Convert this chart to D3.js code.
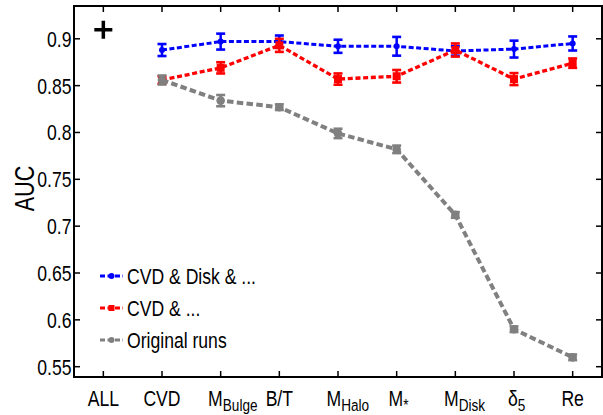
<!DOCTYPE html>
<html>
<head>
<meta charset="utf-8">
<script src="https://cdn.jsdelivr.net/npm/d3@7"></script>
<style>
  body { margin: 0; background: #fff; }
  svg { display: block; font-family: "Liberation Sans", Arial, sans-serif; }
</style>
</head>
<body>
<svg id="chart"></svg>
<script>
// categories (main text + subscript)
const categories = ["ALL", "CVD", "MBulge", "B/T", "MHalo", "Mstar", "MDisk", "d5", "Re"];
const labelMain = ["ALL", "CVD", "M", "B/T", "M", "M", "M", "δ", "Re"];
const labelSub = ["", "", "Bulge", "", "Halo", "*", "Disk", "5", ""];

// series start at CVD
const seriesCats = categories.slice(1);
const blueVals = [0.888, 0.897, 0.897, 0.892, 0.892, 0.887, 0.889, 0.895];
const blueErr = [0.0064, 0.0085, 0.0065, 0.007, 0.010, 0.005, 0.009, 0.0075];
const redVals = [0.856, 0.869, 0.893, 0.857, 0.860, 0.888, 0.857, 0.874];
const redErr = [0.004, 0.006, 0.007, 0.006, 0.0067, 0.007, 0.0064, 0.005];
const grayVals = [0.856, 0.834, 0.827, 0.799, 0.782, 0.712, 0.590, 0.560];
const grayErr = [0.0048, 0.006, 0.003, 0.005, 0.004, 0.003, 0.003, 0.003];
const allValue = 0.9096;

const yTicks = [0.55, 0.6, 0.65, 0.7, 0.75, 0.8, 0.85, 0.9];
const legendLabels = ["CVD & Disk & ...", "CVD & ...", "Original runs"];

const width = 603, height = 415;
const mLeft = 74, mRight = 602, mTop = 6, mBottom = 377;
const narrow = 0.8; // text in the figure is horizontally condensed

const svg = d3.select("#chart").attr("width", width).attr("height", height);

const x = d3.scalePoint().domain(categories).range([mLeft, mRight]).padding(0.5);
const y = d3.scaleLinear().domain([0.539, 0.935]).range([mBottom, mTop]);

// frame
svg.append("rect")
    .attr("x", mLeft).attr("y", mTop)
    .attr("width", mRight - mLeft).attr("height", mBottom - mTop)
    .attr("fill", "none").attr("stroke", "#000").attr("stroke-width", 2);

const tickLen = 6;
// bottom + top ticks
const xt = svg.append("g").attr("class", "xticks");
xt.selectAll("line.b").data(categories).join("line").attr("class", "b")
    .attr("x1", d => x(d)).attr("x2", d => x(d))
    .attr("y1", mBottom).attr("y2", mBottom - tickLen)
    .attr("stroke", "#000").attr("stroke-width", 1.5);
xt.selectAll("line.t").data(categories).join("line").attr("class", "t")
    .attr("x1", d => x(d)).attr("x2", d => x(d))
    .attr("y1", mTop).attr("y2", mTop + tickLen)
    .attr("stroke", "#000").attr("stroke-width", 1.5);

// left + right ticks
const yt = svg.append("g").attr("class", "yticks");
yt.selectAll("line.l").data(yTicks).join("line").attr("class", "l")
    .attr("x1", mLeft).attr("x2", mLeft + tickLen)
    .attr("y1", d => y(d)).attr("y2", d => y(d))
    .attr("stroke", "#000").attr("stroke-width", 1.5);
yt.selectAll("line.r").data(yTicks).join("line").attr("class", "r")
    .attr("x1", mRight).attr("x2", mRight - tickLen)
    .attr("y1", d => y(d)).attr("y2", d => y(d))
    .attr("stroke", "#000").attr("stroke-width", 1.5);
yt.selectAll("text").data(yTicks).join("text")
    .attr("transform", d => `translate(${mLeft - 2.5},${y(d)}) scale(${narrow},1)`)
    .attr("dy", "0.36em")
    .attr("text-anchor", "end")
    .attr("font-size", 22)
    .text(d => d3.format("")(d));

// x labels with subscripts; main glyph sits near the tick, subscript trails
const xl = svg.append("g").attr("class", "xlabels")
    .selectAll("text").data(categories).join("text")
    .attr("font-size", 22);
xl.append("tspan").attr("class", "main").text((d, i) => labelMain[i]);
xl.append("tspan").attr("class", "sub")
    .attr("font-size", 17)
    .attr("dy", 5)
    .text((d, i) => labelSub[i]);
xl.each(function (d) {
    const t = d3.select(this);
    const mw = t.select(".main").node().getComputedTextLength() * narrow;
    const sw = t.select(".sub").node().getComputedTextLength() * narrow;
    const x0 = x(d) - mw / 2 - 0.15 * sw;
    t.attr("transform", `translate(${x0},406) scale(${narrow},1)`);
});

// y label
svg.append("text")
    .attr("transform", `translate(34,${(mTop + mBottom) / 2 - 3}) rotate(-90) scale(${narrow},1)`)
    .attr("text-anchor", "middle")
    .attr("font-size", 27)
    .text("AUC");

const series = [
    { name: legendLabels[0], vals: blueVals, err: blueErr, color: "#0000ff", shape: "circle",
      sw: 3, dash: "5,2.5", ms: 3 },
    { name: legendLabels[1], vals: redVals, err: redErr, color: "#ff0000", shape: "square",
      sw: 3.3, dash: "5,2.7", ms: 4 },
    { name: legendLabels[2], vals: grayVals, err: grayErr, color: "#808080", shape: "circle",
      sw: 4, dash: "6.5,3.3", ms: 4.3 }
];

const line = d3.line().x(d => x(d.c)).y(d => y(d.v));

function marker(sel, s, cx, cy, size) {
    if (s.shape === "circle") {
        sel.append("circle")
            .attr("cx", cx).attr("cy", cy)
            .attr("r", size).attr("fill", s.color);
    } else {
        sel.append("rect")
            .attr("x", d => (typeof cx === "function" ? cx(d) : cx) - size)
            .attr("y", d => (typeof cy === "function" ? cy(d) : cy) - size)
            .attr("width", 2 * size).attr("height", 2 * size).attr("fill", s.color);
    }
}

series.forEach(s => {
    const pts = seriesCats.map((c, i) => ({ c: c, v: s.vals[i], e: s.err[i] }));
    const g = svg.append("g");
    g.append("path").datum(pts)
        .attr("d", line)
        .attr("fill", "none")
        .attr("stroke", s.color)
        .attr("stroke-width", s.sw)
        .attr("stroke-dasharray", s.dash);

    const eb = g.selectAll("g.eb").data(pts).join("g").attr("class", "eb");
    eb.append("line")
        .attr("x1", d => x(d.c)).attr("x2", d => x(d.c))
        .attr("y1", d => y(d.v - d.e)).attr("y2", d => y(d.v + d.e))
        .attr("stroke", s.color).attr("stroke-width", 2.5);
    [1, -1].forEach(k => {
        eb.append("line")
            .attr("x1", d => x(d.c) - 4.5).attr("x2", d => x(d.c) + 4.5)
            .attr("y1", d => y(d.v + k * d.e)).attr("y2", d => y(d.v + k * d.e))
            .attr("stroke", s.color).attr("stroke-width", 2.6);
    });
    marker(eb, s, d => x(d.c), d => y(d.v), s.ms);
});

// ALL marker (+)
const px = x("ALL"), py = y(allValue);
svg.append("path")
    .attr("d", `M${px - 9},${py}H${px + 9}M${px},${py - 9}V${py + 9}`)
    .attr("stroke", "#000").attr("stroke-width", 3.5).attr("fill", "none");

// legend
const lg = svg.append("g").attr("class", "legend")
    .selectAll("g").data(series).join("g")
    .attr("transform", (d, i) => `translate(100,${276 + i * 32})`);
lg.append("line")
    .attr("x1", 0).attr("x2", 23).attr("y1", 0).attr("y2", 0)
    .attr("stroke", d => d.color).attr("stroke-width", 3)
    .attr("stroke-dasharray", "5,2.5");
lg.each(function (s) {
    marker(d3.select(this), s, 11.5, 0, s.shape === "square" ? 3 : 3);
});
lg.append("text")
    .attr("transform", `translate(27,0) scale(${narrow},1)`)
    .attr("dy", "0.36em")
    .attr("font-size", 22)
    .text(d => d.name);
</script>
</body>
</html>
